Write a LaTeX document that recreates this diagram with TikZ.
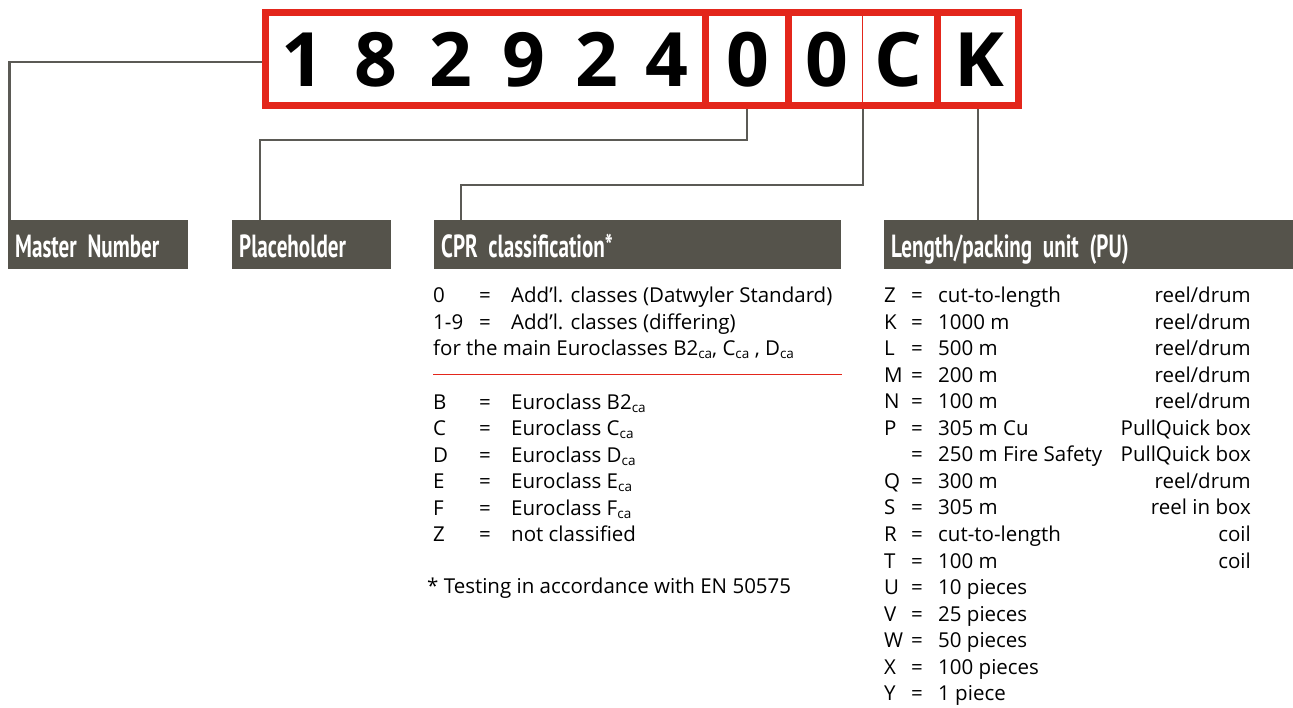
\documentclass[tikz,border=0pt]{standalone}
\usepackage{fontspec}
\setmainfont{Open Sans}
\newfontfamily\headfont[FakeStretch=0.66]{PT Sans}
\usetikzlibrary{positioning}

\definecolor{codered}{HTML}{E3261B}
\definecolor{headgray}{HTML}{55534B}
\definecolor{linegray}{HTML}{5B5A55}

\newcommand{\ca}{\raisebox{-0.3ex}{\fontsize{13.5}{13.5}\selectfont ca}}
\newcommand{\headtext}{\headfont\bfseries\fontsize{32}{32}\selectfont\fontdimen2\font=4.5pt}

\tikzset{
  codebox/.style={draw=codered, line width=7pt, minimum height=93pt, inner sep=0pt},
  digit/.style={font=\fontsize{75}{75}\selectfont\bfseries, anchor=base, inner sep=0pt},
  head/.style={fill=headgray, text=white, minimum height=49pt, inner xsep=7pt,
    anchor=north west, align=left, text height=25.5pt, text depth=0pt, font=\headtext},
  link/.style={draw=linegray, line width=2.5pt},
  entry/.style={font=\fontsize{20.5}{20.5}\selectfont, anchor=base west, inner sep=0pt},
}

\begin{document}
\begin{tikzpicture}[x=1pt, y=-1pt]
\useasboundingbox (0,0) rectangle (1293,707);

% Code boxes
\node[codebox, minimum width=439.5pt] (numbox) at (485.25,59) {};
\node[codebox, minimum width=83.5pt] (zerobox) at (746.75,59) {};
\node[codebox, minimum width=148.5pt] (cprbox) at (862.75,59) {};
\node[codebox, minimum width=81.5pt] (kbox) at (977.75,59) {};
\draw[codered, line width=1pt] (cprbox.north) -- (cprbox.south);

% Digits
\foreach \d/\x [count=\i] in {1/303, 8/376, 2/451, 9/524, 2/597, 4/667, 0/748, 0/827, C/898, K/979}
  \node[digit] (dig\i) at (\x,86.5) {\d};

% Headers
\node[head, text width=166pt] (mhead) at (8,220) {Master Number};
\node[head, text width=145pt] (phead) at (232,220) {Placeholder};
\node[head, text width=393pt] (chead) at (434,220) {CPR classification*};
\node[head, text width=395pt] (khead) at (884,220) {Length/packing unit (PU)};

% Connectors
\draw[link] ([yshift=-3pt]numbox.west) -| ([xshift=1.25pt]mhead.north west);
\draw[link] (zerobox.south) -- ++(0,31) -| ([xshift=28pt]phead.north west);
\draw[link] (cprbox.south) -- ++(0,76) -| ([xshift=27pt]chead.north west);
\draw[link] (kbox.south) -- (kbox.south |- khead.north);

% CPR classification
\foreach \k/\v [count=\i from 0] in {0/Add’l. classes (Datwyler Standard), 1-9/Add’l. classes (differing)} {
  \node[entry] (ck\i) at (433,{302.5+26.5*\i}) {\k};
  \node[entry, anchor=base] (ce\i) at (485,{302.5+26.5*\i}) {=};
  \node[entry] (cv\i) at (511,{302.5+26.5*\i}) {\v};
}
\node[entry] (cmain) at (433,355.5) {for the main Euroclasses B2\ca, C\ca\ , D\ca};
\draw[codered, line width=1pt] (433,374) -- (842,374);

\foreach \k/\v [count=\i from 0] in {B/Euroclass B2\ca, C/Euroclass C\ca, D/Euroclass D\ca,
    E/Euroclass E\ca, F/Euroclass F\ca, Z/not classified} {
  \node[entry] (bk\i) at (433,{409+26.5*\i}) {\k};
  \node[entry, anchor=base] (be\i) at (485,{409+26.5*\i}) {=};
  \node[entry] (bv\i) at (511,{409+26.5*\i}) {\v};
}
\node[entry] (cnote) at (427,593) {* Testing in accordance with EN 50575};

% Length/packing unit
\foreach \k/\v/\u [count=\i from 0] in {Z/cut-to-length/{reel/drum}, K/1000 m/{reel/drum},
    L/500 m/{reel/drum}, M/200 m/{reel/drum}, N/100 m/{reel/drum}, P/305 m Cu/PullQuick box,
    {}/250 m Fire Safety/PullQuick box, Q/300 m/{reel/drum}, S/305 m/reel in box,
    R/cut-to-length/coil, T/100 m/coil, U/10 pieces/{}, V/25 pieces/{}, W/50 pieces/{},
    X/100 pieces/{}, Y/1 piece/{}} {
  \node[entry] (lk\i) at (884,{302.7+26.53*\i}) {\k};
  \node[entry, anchor=base] (le\i) at (917,{302.7+26.53*\i}) {=};
  \node[entry] (lv\i) at (938,{302.7+26.53*\i}) {\v};
  \node[entry, anchor=base east] (lu\i) at (1251,{302.7+26.53*\i}) {\u};
}

\end{tikzpicture}
\end{document}
